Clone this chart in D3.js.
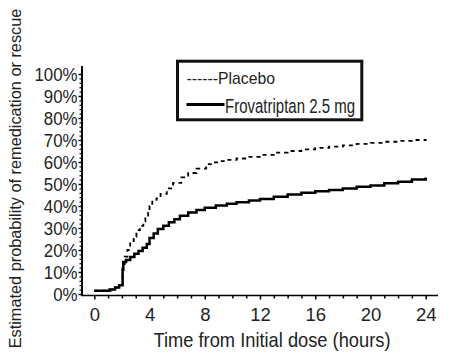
<!DOCTYPE html>
<html><head><meta charset="utf-8">
<script src="https://cdn.jsdelivr.net/npm/d3@7"></script>
<style>
body{margin:0;background:#fff;}
svg{display:block;}
text{font-family:"Liberation Sans",Arial,sans-serif;fill:#222;}
</style></head>
<body>
<svg id="c" width="472" height="362"></svg>
<script>
const placeboT = [0,1.2,1.6,1.95,2.05,2.2,2.4,2.6,2.85,3.05,3.3,3.55,3.7,3.9,4.0,4.2,4.5,4.8,5.25,5.7,6.3,6.8,7.4,8.1,8.6,9.1,9.7,10.3,11.0,12.0,13.0,14.0,15.0,16.0,17.0,18.0,19.0,20.0,21.0,22.0,23.0,24.0];
const placeboP = [1.5,2,3,4,12,17,20,23,26,29,31,33,34.5,37,40,42,43.5,45.5,48,50.5,53,55,57,59,59.8,60.4,61,61.6,62.3,63.2,64.3,65,65.7,66.4,67,67.6,68.2,68.7,69.2,69.6,70,70.4];
const frovaT = [0,1.1,1.5,1.8,2.05,2.1,2.3,2.6,2.9,3.2,3.5,3.8,4.0,4.3,4.6,5.0,5.4,5.8,6.2,6.8,7.4,8.0,8.8,9.6,10.3,11.2,12.0,13.0,14.0,15.0,16.0,17.0,18.0,19.0,20.0,21.0,22.0,23.0,24.0];
const frovaP = [1.5,2,3,4,11,14.5,15.5,16.8,18.3,19.6,21,22.7,25.5,27.5,29.5,31,32.6,34,35.6,37,38.2,39.2,40.2,41,41.7,42.5,43.2,44.2,45.2,46,46.7,47.3,48,48.7,49.3,50.3,51,52,53];
const xTicks = [0,4,8,12,16,20,24];
const yTicks = [0,10,20,30,40,50,60,70,80,90,100];
const seriesNames = ["Placebo","Frovatriptan 2.5 mg"];
const xTitle = "Time from Initial dose (hours)";
const yTitle = "Estimated probability of remedication or rescue";

const svg = d3.select("#c");
const x = d3.scaleLinear().domain([0,24]).range([94.3,425.7]);
const y = d3.scaleLinear().domain([0,100]).range([294,74]);

function condense(sel, f){
  sel.each(function(){
    const w = this.getComputedTextLength();
    d3.select(this).attr("textLength", w*f).attr("lengthAdjust","spacingAndGlyphs");
  });
}

// axis lines
svg.append("line").attr("x1",82).attr("x2",82).attr("y1",66).attr("y2",296).attr("stroke","#000").attr("stroke-width",2);
svg.append("line").attr("x1",81).attr("x2",438).attr("y1",295.5).attr("y2",295.5).attr("stroke","#000").attr("stroke-width",1.6);

// y axis
const yAx = svg.append("g").attr("transform","translate(82,0)")
  .call(d3.axisLeft(y).tickValues(yTicks).tickFormat(d=>d+"%").tickSize(3.5).tickPadding(1));
yAx.select(".domain").remove();
yAx.selectAll(".tick line").attr("stroke","#000").attr("stroke-width",1.5);
yAx.selectAll("text").style("font-size","18.5px").attr("dy","0.36em").attr("fill","#222");
condense(yAx.selectAll("text"), 0.91);
const yMinor = svg.append("g").attr("transform","translate(82,0)")
  .call(d3.axisLeft(y).tickValues(d3.range(0,101,2).filter(v=>v%10)).tickFormat("").tickSize(2.5));
yMinor.select(".domain").remove();
yMinor.selectAll(".tick line").attr("stroke","#000").attr("stroke-width",1.2);

// x axis
const xAx = svg.append("g").attr("transform","translate(0,295.5)")
  .call(d3.axisBottom(x).tickValues(xTicks).tickSize(4).tickPadding(8.5));
xAx.select(".domain").remove();
xAx.selectAll(".tick line").attr("stroke","#000").attr("stroke-width",1.5);
xAx.selectAll("text").style("font-size","18.5px").attr("fill","#222");
const xMinor = svg.append("g").attr("transform","translate(0,295.5)")
  .call(d3.axisBottom(x).tickValues(d3.range(0,25,1).filter(v=>v%4)).tickFormat("").tickSize(3));
xMinor.select(".domain").remove();
xMinor.selectAll(".tick line").attr("stroke","#000").attr("stroke-width",1.5);

// titles
svg.append("text").attr("x",153.5).attr("y",346.7).style("font-size","21px")
  .attr("textLength",237).attr("lengthAdjust","spacingAndGlyphs").text(xTitle);
const yt = svg.append("text").attr("text-anchor","middle").style("font-size","17px").text(yTitle);
const ytw = yt.node().getComputedTextLength();
yt.attr("transform",`translate(21,178.5) rotate(-90) scale(${340/ytw},1)`);

// curves
const line = d3.line().x(d=>x(d[0])).y(d=>y(d[1])).curve(d3.curveStepAfter);
const pData = placeboT.map((t,i)=>[t,placeboP[i]]);
const fData = frovaT.map((t,i)=>[t,frovaP[i]]);
svg.append("path").attr("d",line(pData)).attr("fill","none").attr("stroke","#000").attr("stroke-width",1.8).attr("stroke-dasharray","4,4");
svg.append("path").attr("d",line(fData)).attr("fill","none").attr("stroke","#000").attr("stroke-width",2.5);

// legend
svg.append("rect").attr("x",177.5).attr("y",61.2).attr("width",184.3).attr("height",58.6).attr("fill","#fff").attr("stroke","#111").attr("stroke-width",3);
svg.append("text").attr("x",186.5).attr("y",84).style("font-size","17px")
  .attr("textLength",88.5).attr("lengthAdjust","spacingAndGlyphs").text("------"+seriesNames[0]);
svg.append("line").attr("x1",186.5).attr("x2",224.5).attr("y1",104.5).attr("y2",104.5).attr("stroke","#000").attr("stroke-width",3);
svg.append("text").attr("x",225).attr("y",113).style("font-size","20.5px")
  .attr("textLength",130).attr("lengthAdjust","spacingAndGlyphs").text(seriesNames[1]);
</script>
</body></html>
